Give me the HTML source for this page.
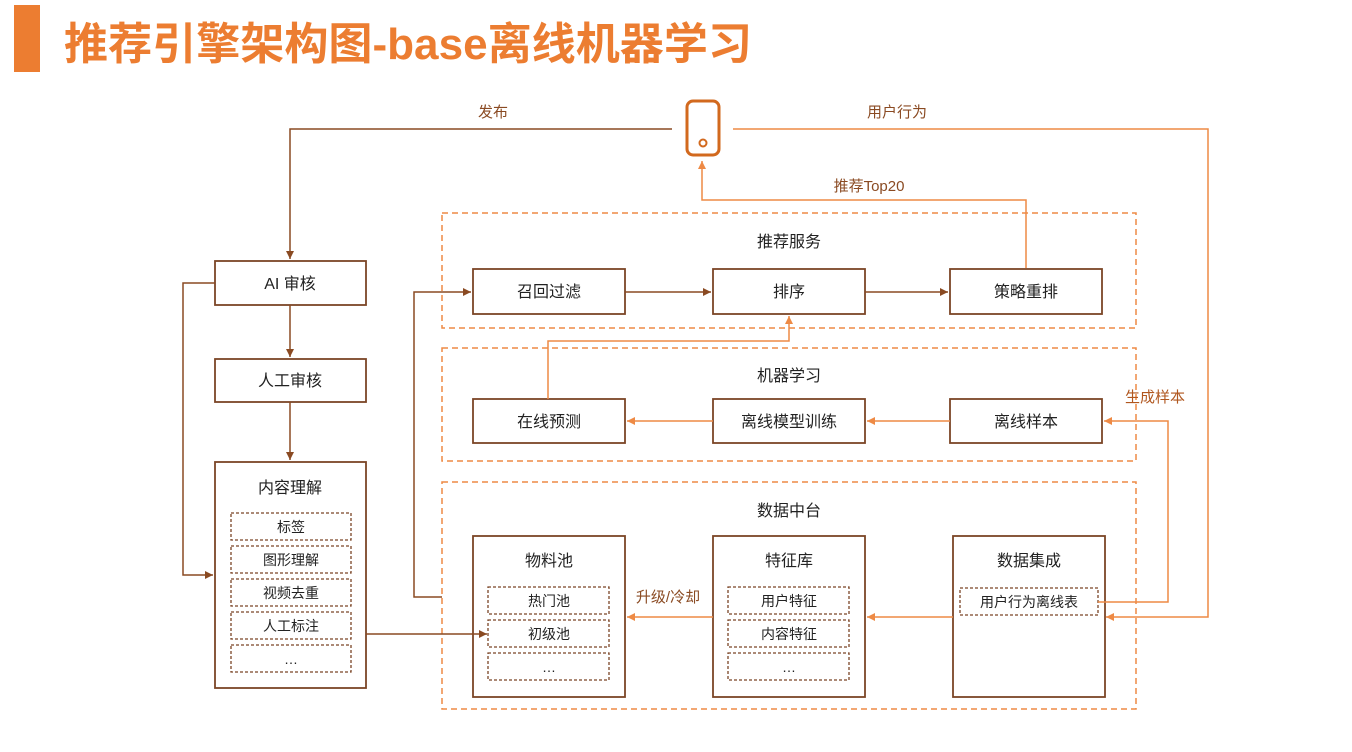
<!DOCTYPE html>
<html><head><meta charset="utf-8"><style>
body{margin:0;background:#fff;width:1352px;height:752px;overflow:hidden}
svg{display:block}
text{font-family:"Liberation Sans","Noto Sans CJK SC",sans-serif;fill:#222}
</style></head><body>
<svg width="1352" height="752" viewBox="0 0 1352 752">
<defs>
<marker id="ab" markerWidth="10" markerHeight="10" refX="9" refY="5" orient="auto" markerUnits="userSpaceOnUse"><path d="M1,1 L9,5 L1,9 z" fill="#8a4a22"/></marker>
<marker id="ao" markerWidth="10" markerHeight="10" refX="9" refY="5" orient="auto" markerUnits="userSpaceOnUse"><path d="M1,1 L9,5 L1,9 z" fill="#ee8a45"/></marker>
</defs>
<rect x="14" y="5" width="26" height="67" fill="#ec7d31"/>
<text x="64" y="59" font-size="44" font-weight="bold" textLength="688" lengthAdjust="spacingAndGlyphs" style="fill:#ec7d31">推荐引擎架构图-base离线机器学习</text>

<!-- phone -->
<rect x="687" y="101" width="32" height="54" rx="6" fill="none" stroke="#d2691e" stroke-width="3"/>
<circle cx="703" cy="143" r="3.5" fill="none" stroke="#d2691e" stroke-width="2"/>

<g fill="none" stroke="#ee8a45" stroke-width="1.5" stroke-dasharray="6,4">
<rect x="442" y="213" width="694" height="115"/>
<rect x="442" y="348" width="694" height="113"/>
<rect x="442" y="482" width="694" height="227"/>
</g>

<g fill="#fff" stroke="#7b4526" stroke-width="1.8">
<rect x="215" y="261" width="151" height="44"/>
<rect x="215" y="359" width="151" height="43"/>
<rect x="215" y="462" width="151" height="226"/>
<rect x="473" y="269" width="152" height="45"/>
<rect x="713" y="269" width="152" height="45"/>
<rect x="950" y="269" width="152" height="45"/>
<rect x="473" y="399" width="152" height="44"/>
<rect x="713" y="399" width="152" height="44"/>
<rect x="950" y="399" width="152" height="44"/>
<rect x="473" y="536" width="152" height="161"/>
<rect x="713" y="536" width="152" height="161"/>
<rect x="953" y="536" width="152" height="161"/>
</g>
<g fill="none" stroke="#7b4526" stroke-width="1.3" stroke-dasharray="3,2">
<rect x="231" y="513" width="120" height="27"/>
<rect x="231" y="546" width="120" height="27"/>
<rect x="231" y="579" width="120" height="27"/>
<rect x="231" y="612" width="120" height="27"/>
<rect x="231" y="645" width="120" height="27"/>
<rect x="488" y="587" width="121" height="27"/>
<rect x="488" y="620" width="121" height="27"/>
<rect x="488" y="653" width="121" height="27"/>
<rect x="728" y="587" width="121" height="27"/>
<rect x="728" y="620" width="121" height="27"/>
<rect x="728" y="653" width="121" height="27"/>
<rect x="960" y="588" width="138" height="27"/>
</g>

<g fill="none" stroke-width="1.5">
<polyline points="672,129 290,129 290,259" stroke="#8a4a22" marker-end="url(#ab)"/>
<polyline points="733,129 1208,129 1208,617 1106,617" stroke="#ee8a45" marker-end="url(#ao)"/>
<polyline points="1026,268 1026,200 702,200 702,161" stroke="#ee8a45" marker-end="url(#ao)"/>
<polyline points="290,305 290,357" stroke="#8a4a22" marker-end="url(#ab)"/>
<polyline points="290,402 290,460" stroke="#8a4a22" marker-end="url(#ab)"/>
<polyline points="215,283 183,283 183,575 213,575" stroke="#8a4a22" marker-end="url(#ab)"/>
<polyline points="366,634 487,634" stroke="#8a4a22" marker-end="url(#ab)"/>
<polyline points="442,597 414,597 414,292 471,292" stroke="#8a4a22" marker-end="url(#ab)"/>
<polyline points="625,292 711,292" stroke="#8a4a22" marker-end="url(#ab)"/>
<polyline points="865,292 948,292" stroke="#8a4a22" marker-end="url(#ab)"/>
<polyline points="950,421 867,421" stroke="#ee8a45" marker-end="url(#ao)"/>
<polyline points="713,421 627,421" stroke="#ee8a45" marker-end="url(#ao)"/>
<polyline points="548,399 548,341 789,341 789,316" stroke="#ee8a45" marker-end="url(#ao)"/>
<polyline points="1098,602 1168,602 1168,421 1104,421" stroke="#ee8a45" marker-end="url(#ao)"/>
<polyline points="953,617 867,617" stroke="#ee8a45" marker-end="url(#ao)"/>
<polyline points="713,617 627,617" stroke="#ee8a45" marker-end="url(#ao)"/>
</g>

<g font-size="16" text-anchor="middle">
<text x="493" y="117" font-size="15" style="fill:#8a4a22">发布</text>
<text x="897" y="117" font-size="15" style="fill:#8a4a22">用户行为</text>
<text x="869" y="191" font-size="15" style="fill:#8a4a22">推荐Top20</text>
<text x="1155" y="402" font-size="15" style="fill:#b0561e">生成样本</text>
<text x="668" y="602" font-size="15" style="fill:#8a4a22">升级/冷却</text>
<text x="789" y="247">推荐服务</text>
<text x="789" y="381">机器学习</text>
<text x="789" y="516">数据中台</text>
<text x="290" y="289">AI 审核</text>
<text x="290" y="386">人工审核</text>
<text x="290" y="493">内容理解</text>
<text x="291" y="532" font-size="14">标签</text>
<text x="291" y="565" font-size="14">图形理解</text>
<text x="291" y="598" font-size="14">视频去重</text>
<text x="291" y="631" font-size="14">人工标注</text>
<text x="291" y="664" font-size="14">…</text>
<text x="549" y="297">召回过滤</text>
<text x="789" y="297">排序</text>
<text x="1026" y="297">策略重排</text>
<text x="549" y="427">在线预测</text>
<text x="789" y="427">离线模型训练</text>
<text x="1026" y="427">离线样本</text>
<text x="549" y="566">物料池</text>
<text x="789" y="566">特征库</text>
<text x="1029" y="566">数据集成</text>
<text x="549" y="606" font-size="14">热门池</text>
<text x="549" y="639" font-size="14">初级池</text>
<text x="549" y="672" font-size="14">…</text>
<text x="789" y="606" font-size="14">用户特征</text>
<text x="789" y="639" font-size="14">内容特征</text>
<text x="789" y="672" font-size="14">…</text>
<text x="1029" y="607" font-size="14">用户行为离线表</text>
</g>
</svg>
</body></html>
